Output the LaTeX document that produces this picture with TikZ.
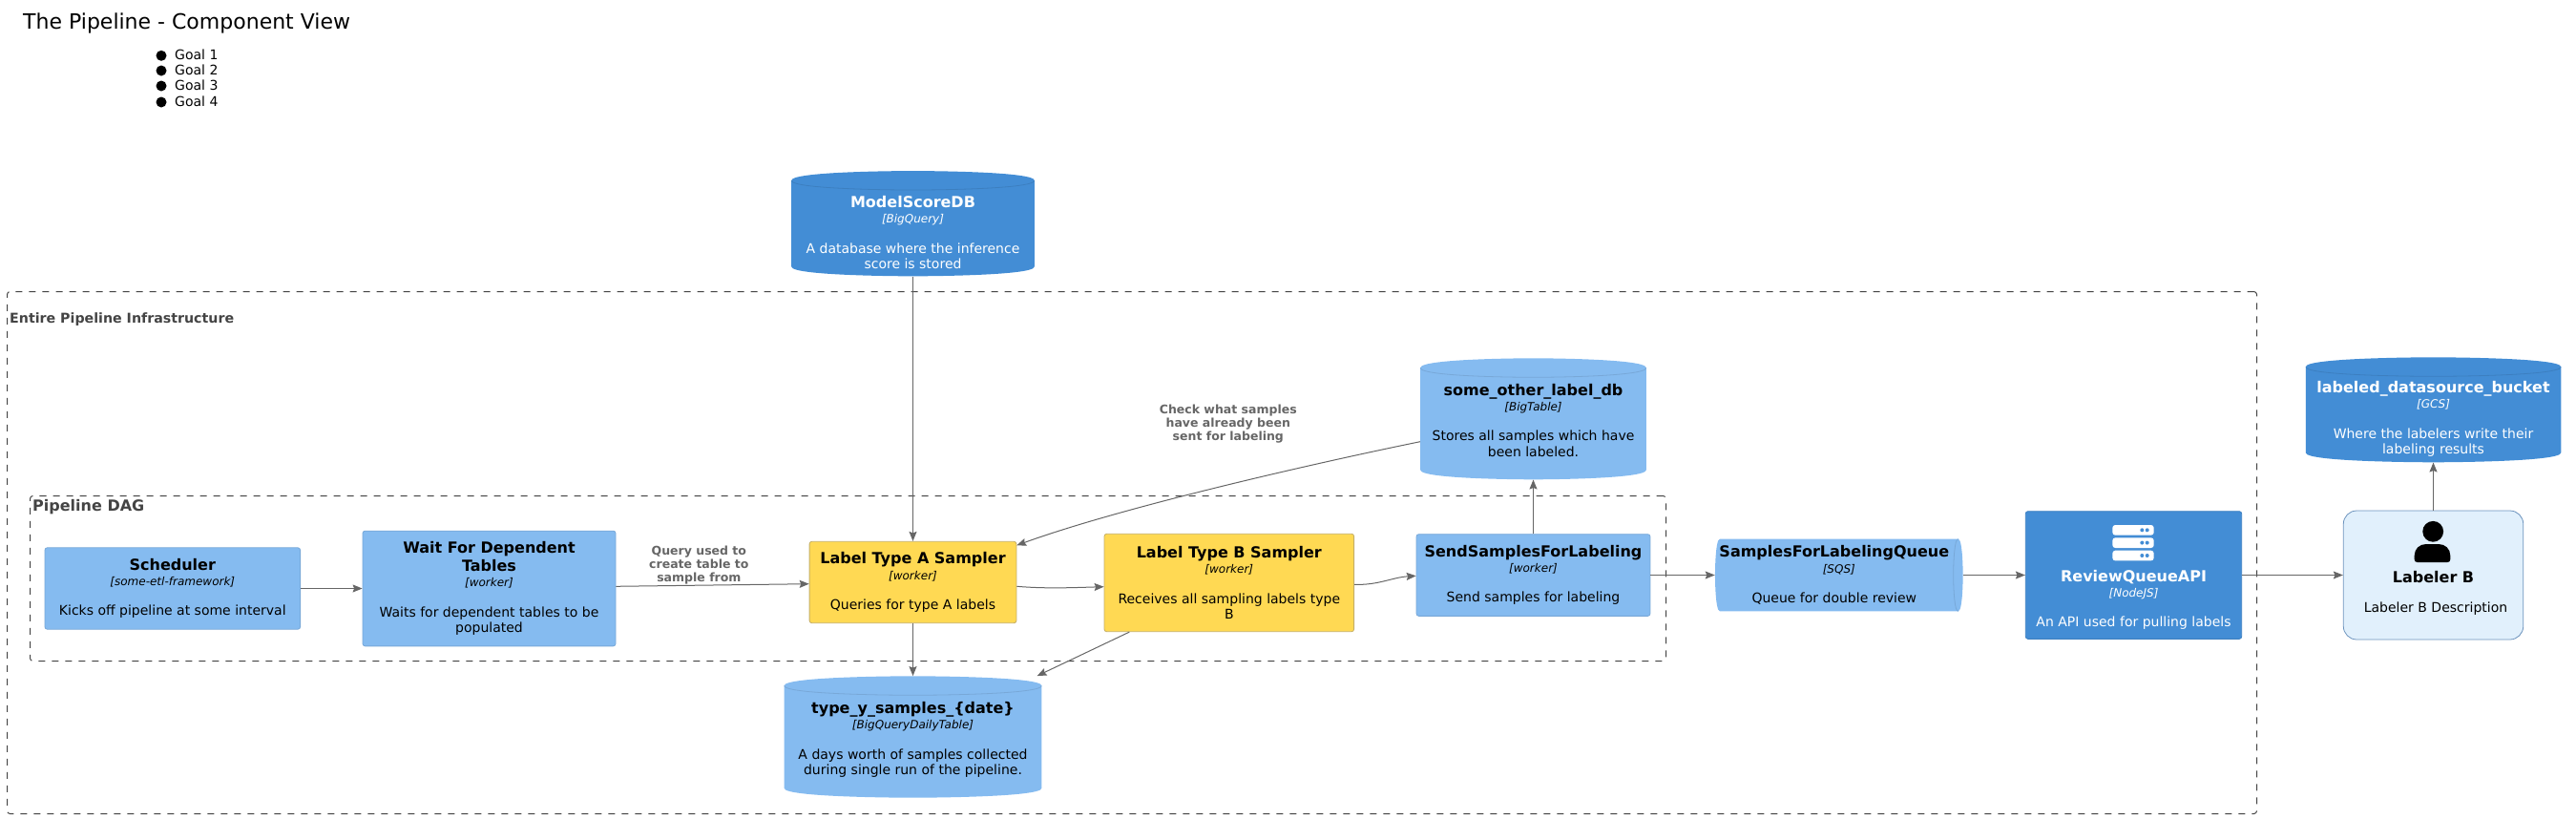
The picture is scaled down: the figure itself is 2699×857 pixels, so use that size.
\documentclass[tikz,border=0pt]{standalone}
\usepackage{fontspec}
\setmainfont{DejaVu Sans}
\usetikzlibrary{arrows.meta,calc}

\definecolor{extblue}{HTML}{438DD5}
\definecolor{extline}{HTML}{3C7FC0}
\definecolor{compblue}{HTML}{85BBF0}
\definecolor{compline}{HTML}{78A8D8}
\definecolor{sampyellow}{HTML}{FFD953}
\definecolor{sampline}{HTML}{C4AE66}
\definecolor{personfill}{HTML}{E1F0FC}
\definecolor{personline}{HTML}{6C93BD}
\definecolor{relgrey}{HTML}{666666}
\definecolor{bndgrey}{HTML}{444444}

\newcommand{\comptitle}[1]{{\bfseries\fontsize{16}{16.3}\selectfont #1}}
\newcommand{\comptech}[1]{{\itshape\fontsize{12}{16.3}\selectfont #1}}

\begin{document}
\begin{tikzpicture}[
  x=1pt,y=-1pt,
  wh/.style 2 args={minimum width=#1pt,minimum height=#2pt},
  boxtext/.style={align=center,inner sep=0pt,font=\fontsize{14}{16.3}\selectfont},
  comp/.style={rectangle,boxtext,rounded corners=2.5pt,draw=compline,fill=compblue,line width=.8pt},
  sampler/.style={rectangle,boxtext,rounded corners=2.5pt,draw=sampline,fill=sampyellow,line width=.8pt},
  api/.style={rectangle,boxtext,rounded corners=2.5pt,draw=extline,fill=extblue,line width=.8pt,text=white},
  person/.style={rectangle,boxtext,rounded corners=14pt,draw=personline,fill=personfill,line width=.8pt},
  dbshape/.style 2 args={rectangle,boxtext,path picture={
    \fill[#1] let \p1=(path picture bounding box.north west),\p2=(path picture bounding box.south east),\n1={(\x1+\x2)/2} in
      (\x1,\y1-10pt) .. controls (\x1,\y1) and (\n1,\y1) .. (\n1,\y1) .. controls (\n1,\y1) and (\x2,\y1) .. (\x2,\y1-10pt)
      -- (\x2,\y2+10pt) .. controls (\x2,\y2) and (\n1,\y2) .. (\n1,\y2) .. controls (\n1,\y2) and (\x1,\y2) .. (\x1,\y2+10pt) -- cycle;
    \draw[#2,line width=.8pt] let \p1=(path picture bounding box.north west),\p2=(path picture bounding box.south east),\n1={(\x1+\x2)/2} in
      (\x1,\y1-10pt) .. controls (\x1,\y1-20pt) and (\n1,\y1-20pt) .. (\n1,\y1-20pt) .. controls (\n1,\y1-20pt) and (\x2,\y1-20pt) .. (\x2,\y1-10pt);
  }},
  db/.style={dbshape={compblue}{compline}},
  extdb/.style={dbshape={extblue}{extline},text=white},
  queueshape/.style={rectangle,boxtext,path picture={
    \fill[compblue] let \p1=(path picture bounding box.north west),\p2=(path picture bounding box.south east),\n1={(\y1+\y2)/2} in
      (\x1+5pt,\y1) -- (\x2-5pt,\y1) .. controls (\x2,\y1) and (\x2,\n1) .. (\x2,\n1) .. controls (\x2,\n1) and (\x2,\y2) .. (\x2-5pt,\y2)
      -- (\x1+5pt,\y2) .. controls (\x1,\y2) and (\x1,\n1) .. (\x1,\n1) .. controls (\x1,\n1) and (\x1,\y1) .. (\x1+5pt,\y1) -- cycle;
    \draw[compline,line width=.8pt] let \p1=(path picture bounding box.north west),\p2=(path picture bounding box.south east),\n1={(\y1+\y2)/2} in
      (\x2-5pt,\y1) .. controls (\x2-10pt,\y1) and (\x2-10pt,\n1) .. (\x2-10pt,\n1) .. controls (\x2-10pt,\n1) and (\x2-10pt,\y2) .. (\x2-5pt,\y2);
  }},
  boundary/.style={rectangle,draw=bndgrey,line width=1pt,dash pattern=on 7pt off 7pt,rounded corners=3pt},
  bndlabel/.style={anchor=west,inner sep=0pt,text=bndgrey},
  rel/.style={draw=relgrey,line width=1pt,-{Stealth[length=10pt,width=8pt,inset=1.5pt]}},
  rellabel/.style={align=center,inner sep=0pt,text=relgrey,font=\bfseries\fontsize{12.5}{14}\selectfont},
]
  \useasboundingbox (0,0) rectangle (2699,857);
  % heading
  \node[anchor=west,inner sep=0pt,font=\fontsize{22}{26}\selectfont] (title) at (24,24) {The Pipeline - Component View};
  \foreach \n/\yy in {1/57.3,2/73,3/89,4/106}{
    \fill (169,\yy+1) circle (5.5pt);
    \node[anchor=west,inner sep=0pt,font=\fontsize{14}{16}\selectfont] (goal\n) at (183,\yy) {Goal \n};
  }

  % boundaries
  \node[boundary,wh={2357}{547}] (entire) at (1186,579) {};
  \node[bndlabel,font=\bfseries\fontsize{14.2}{16}\selectfont] (entirelabel) at (10,335) {Entire Pipeline Infrastructure};
  \node[boundary,wh={1714}{173}] (dag) at (888.5,606) {};
  \node[bndlabel,font=\bfseries\fontsize{16}{18}\selectfont] (daglabel) at (34,531) {Pipeline DAG};

  % nodes
  \node[extdb,wh={254.6}{110.3}] (modelscore) at (956.5,234.2)
    {\mbox{}\\[14.7pt]\comptitle{ModelScoreDB}\\\comptech{[BigQuery]}\\[15pt]A database where the inference\\score is stored};
  \node[db,wh={236.7}{127}] (otherdb) at (1606.5,438.8)
    {\mbox{}\\[14.7pt]\comptitle{some\_other\_label\_db}\\\comptech{[BigTable]}\\[15pt]Stores all samples which have\\been labeled.\\\mbox{}};
  \node[comp,wh={267.6}{85.4}] (scheduler) at (180.8,616.5)
    {\comptitle{Scheduler}\\\comptech{[some-etl-framework]}\\[15pt]Kicks off pipeline at some interval};
  \node[comp,wh={265}{120.7}] (waitdeps) at (512.5,616.5)
    {\comptitle{Wait For Dependent}\\[2.7pt]\comptitle{Tables}\\\comptech{[worker]}\\[15pt]Waits for dependent tables to be\\populated};
  \node[sampler,wh={216.8}{85.4}] (labela) at (956.5,610)
    {\comptitle{Label Type A Sampler}\\\comptech{[worker]}\\[15pt]Queries for type A labels};
  \node[sampler,wh={261.6}{102.4}] (labelb) at (1287.8,610.5)
    {\comptitle{Label Type B Sampler}\\\comptech{[worker]}\\[15pt]Receives all sampling labels type\\B};
  \node[comp,wh={244.9}{85.7}] (sendsamples) at (1606.5,602.5)
    {\comptitle{SendSamplesForLabeling}\\\comptech{[worker]}\\[15pt]Send samples for labeling};
  \node[db,wh={269.8}{127.4}] (typey) at (956.5,772)
    {\mbox{}\\[14.7pt]\comptitle{type\_y\_samples\_\{date\}}\\\comptech{[BigQueryDailyTable]}\\[15pt]A days worth of samples collected\\during single run of the pipeline.\\\mbox{}};
  \node[queueshape,wh={259.7}{75.7}] (queue) at (1926.8,602.5)
    {\comptitle{SamplesForLabelingQueue}\hspace*{10pt}\\\comptech{[SQS]}\hspace*{10pt}\\[15pt]Queue for double review\hspace*{10pt}};
  \node[api,wh={226.4}{133.7}] (reviewapi) at (2235.5,602.5)
    {\mbox{}\\[47.7pt]\comptitle{ReviewQueueAPI}\\\comptech{[NodeJS]}\\[15pt]An API used for pulling labels};
  \node[person,wh={188.5}{135}] (labelerb) at (2549.5,602.5)
    {\mbox{}\\[33.7pt]\comptitle{Labeler B}\\[15.5pt]\hspace*{5pt}Labeler B Description};
  \node[extdb,wh={267.5}{110}] (bucket) at (2549.5,429.3)
    {\mbox{}\\[14.7pt]\comptitle{labeled\_datasource\_bucket}\\\comptech{[GCS]}\\[15pt]Where the labelers write their\\labeling results};

  % icons
  \foreach \yy in {550,563.3,576.7}{
    \fill[white,rounded corners=3pt] (2213.3,\yy) rectangle (2256.7,\yy+10.7);
    \fill[extblue] (2244.3,\yy+5.3) circle (2pt) (2249.7,\yy+5.3) circle (2pt);
  }
  \fill (2549.2,556.8) circle (10.9pt);
  \fill (2532.7,589) .. controls (2531,589) and (2529.7,588) .. (2529.7,586) -- (2529.7,582)
    .. controls (2529.7,575) and (2535,570) .. (2542,570) -- (2555,570)
    .. controls (2562,570) and (2567.3,575) .. (2567.3,582) -- (2567.3,586)
    .. controls (2567.3,588) and (2566,589) .. (2564.3,589) -- cycle;

  % connectors
  \draw[rel] (modelscore.south) -- (labela.north);
  \draw[rel] (scheduler.east) -- (waitdeps.west);
  \draw[rel] ([yshift=2.2pt]waitdeps.east) -- node[rellabel,pos=.43,above=1pt] (querylabel) {Query used to\\create table to\\sample from} ([yshift=-1.7pt]labela.west);
  \draw[rel] ([yshift=-4.3pt]labela.east) .. controls +(30pt,-2.5pt) and +(-35pt,-1pt) .. ([yshift=-4.2pt]labelb.west);
  \draw[rel] ([yshift=-1.8pt]labelb.east) .. controls +(25pt,-1pt) and +(-25pt,-1.5pt) .. ([yshift=-.8pt]sendsamples.west);
  \draw[rel] (labela.south) -- (typey.north);
  \draw[rel] ([xshift=-104.5pt]labelb.south) -- ([xshift=-5pt]typey.north east);
  \draw[rel] ([yshift=-23.9pt]otherdb.west) .. controls +(-98pt,-20pt) and +(115pt,41.7pt) .. ([yshift=-4.4pt]labela.north east);
  \draw[rel] (sendsamples.north) -- (otherdb.south);
  \draw[rel] (sendsamples.east) -- (queue.west);
  \draw[rel] (queue.east) -- (reviewapi.west);
  \draw[rel] (reviewapi.east) -- (labelerb.west);
  \draw[rel] (labelerb.north) -- (bucket.south);
  \node[rellabel] (checklabel) at (1286.8,443.7) {Check what samples\\have already been\\sent for labeling};
\end{tikzpicture}
\end{document}
